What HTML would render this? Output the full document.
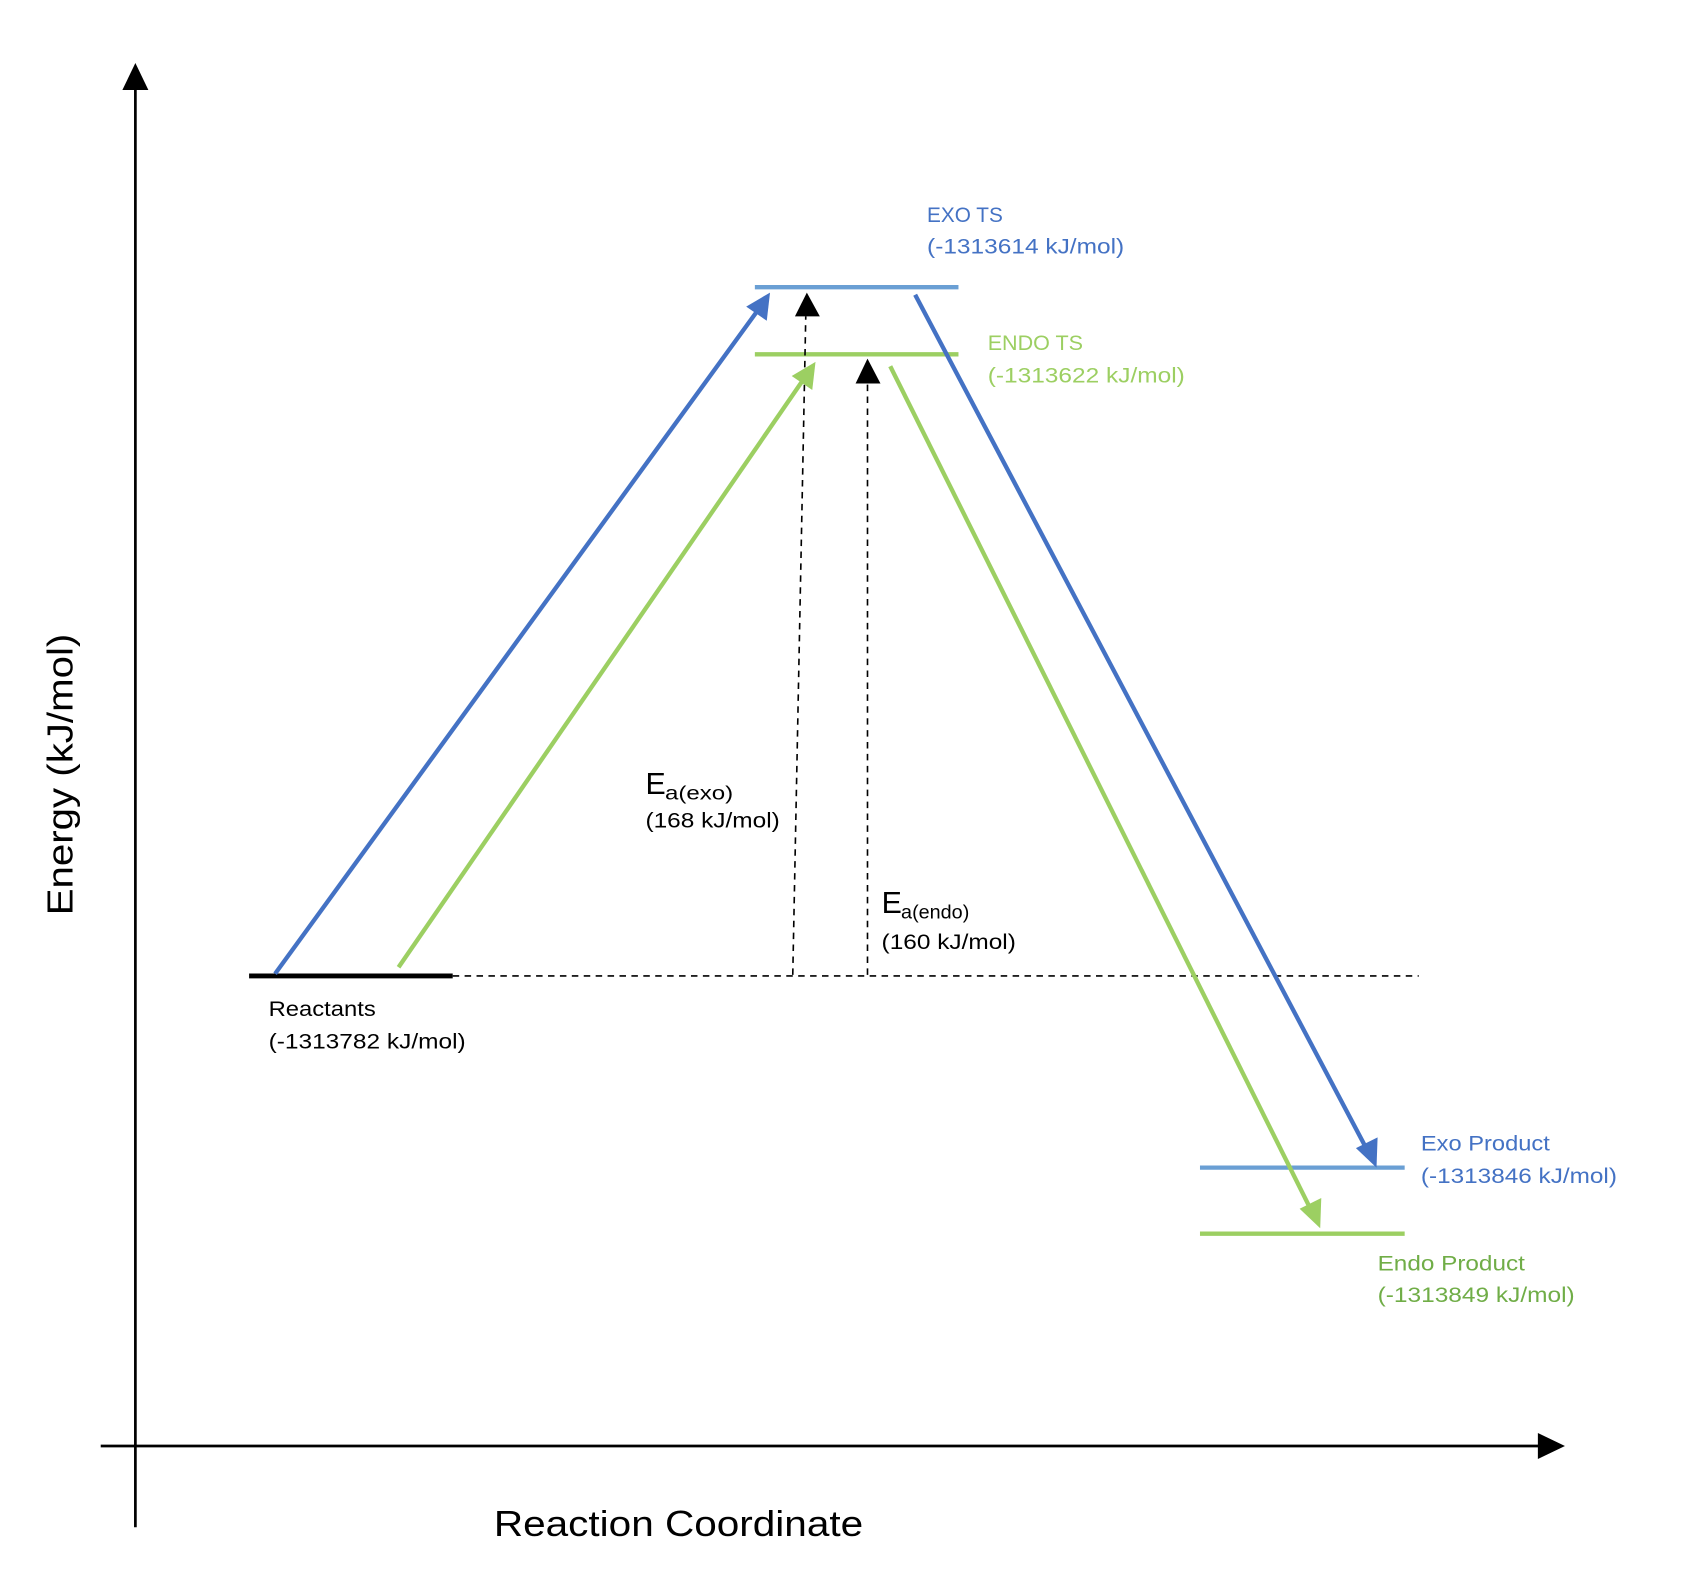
<!DOCTYPE html>
<html><head><meta charset="utf-8"><style>
html,body{margin:0;padding:0;background:#fff;}
svg{display:block;}
text{font-family:"Liberation Sans",sans-serif;}
</style></head><body>
<svg width="1696" height="1588" viewBox="0 0 1566 1466" xmlns="http://www.w3.org/2000/svg">
<line x1="125" y1="1410" x2="125" y2="80" stroke="#000" stroke-width="2.5"/>
<polygon points="125,58 113,83 137,83" fill="#000"/>
<line x1="93" y1="1335" x2="1422" y2="1335" stroke="#000" stroke-width="2.5"/>
<polygon points="1445,1335 1420,1323 1420,1347" fill="#000"/>
<line x1="418" y1="901" x2="1310" y2="901" stroke="#000" stroke-width="1.5" stroke-dasharray="6,5"/>
<line x1="230" y1="901" x2="418" y2="901" stroke="#000" stroke-width="4.5"/>
<line x1="697" y1="265" x2="885" y2="265" stroke="#6a9fd4" stroke-width="4"/>
<line x1="697" y1="327" x2="885" y2="327" stroke="#9ccf62" stroke-width="4"/>
<line x1="1108" y1="1078" x2="1297" y2="1078" stroke="#6a9fd4" stroke-width="4"/>
<line x1="1108" y1="1139" x2="1297" y2="1139" stroke="#9ccf62" stroke-width="4"/>
<line x1="732" y1="900" x2="744" y2="292" stroke="#000" stroke-width="1.5" stroke-dasharray="6,5"/>
<polygon points="745,270 734,292 757,292" fill="#000"/>
<line x1="801" y1="900" x2="801" y2="354" stroke="#000" stroke-width="1.5" stroke-dasharray="6,5"/>
<polygon points="801,331 790,354 813,354" fill="#000"/>
<line x1="254" y1="899" x2="700" y2="286" stroke="#4472c4" stroke-width="4"/>
<polygon points="711,270 708,296 689,283" fill="#4472c4"/>
<line x1="368" y1="893" x2="742" y2="350" stroke="#9ccf62" stroke-width="4"/>
<polygon points="753,334 750,360 731,347" fill="#9ccf62"/>
<line x1="845" y1="272" x2="1262" y2="1061" stroke="#4472c4" stroke-width="4"/>
<polygon points="1271,1078 1252,1060 1272,1050" fill="#4472c4"/>
<line x1="822" y1="338" x2="1210" y2="1116" stroke="#9ccf62" stroke-width="4"/>
<polygon points="1219,1134 1200,1116 1220,1106" fill="#9ccf62"/>
<g font-size="20">
<text x="856" y="205" fill="#4472c4" textLength="70" lengthAdjust="spacingAndGlyphs">EXO TS</text>
<text x="856" y="234" fill="#4472c4" textLength="182" lengthAdjust="spacingAndGlyphs">(-1313614 kJ/mol)</text>
<text x="912" y="323" fill="#9ccf62" textLength="88" lengthAdjust="spacingAndGlyphs">ENDO TS</text>
<text x="912" y="353" fill="#9ccf62" textLength="182" lengthAdjust="spacingAndGlyphs">(-1313622 kJ/mol)</text>
<text x="1312" y="1062" fill="#4472c4" textLength="119" lengthAdjust="spacingAndGlyphs">Exo Product</text>
<text x="1312" y="1092" fill="#4472c4" textLength="181" lengthAdjust="spacingAndGlyphs">(-1313846 kJ/mol)</text>
<text x="1272" y="1173" fill="#70ad47" textLength="136" lengthAdjust="spacingAndGlyphs">Endo Product</text>
<text x="1272" y="1202" fill="#70ad47" textLength="182" lengthAdjust="spacingAndGlyphs">(-1313849 kJ/mol)</text>
<text x="248" y="938" fill="#000" textLength="99" lengthAdjust="spacingAndGlyphs">Reactants</text>
<text x="248" y="968" fill="#000" textLength="182" lengthAdjust="spacingAndGlyphs">(-1313782 kJ/mol)</text>
<text x="596" y="764" fill="#000" textLength="124" lengthAdjust="spacingAndGlyphs">(168 kJ/mol)</text>
<text x="814" y="876" fill="#000" textLength="124" lengthAdjust="spacingAndGlyphs">(160 kJ/mol)</text>
</g>
<text x="596" y="733" font-size="28" fill="#000">E</text>
<text x="614" y="738" font-size="18" fill="#000" textLength="63" lengthAdjust="spacingAndGlyphs">a(exo)</text>
<text x="814" y="843" font-size="28" fill="#000">E</text>
<text x="832" y="848" font-size="18" fill="#000" textLength="63" lengthAdjust="spacingAndGlyphs">a(endo)</text>
<text x="456" y="1418" font-size="33" fill="#000" textLength="341" lengthAdjust="spacingAndGlyphs">Reaction Coordinate</text>
<text transform="translate(67,845) rotate(-90)" font-size="33" fill="#000" textLength="260" lengthAdjust="spacingAndGlyphs">Energy (kJ/mol)</text>
</svg>
</body></html>
